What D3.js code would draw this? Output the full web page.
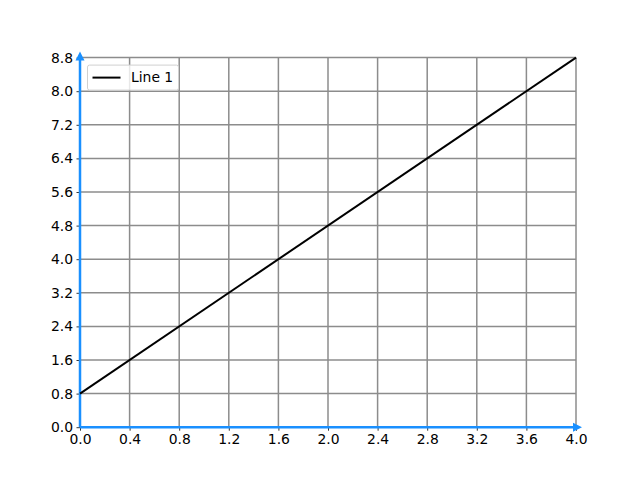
<!DOCTYPE html>
<html>
<head>
<meta charset="utf-8">
<script src="https://cdn.jsdelivr.net/npm/d3@7"></script>
<style>
  body { margin: 0; background: #fff; }
  svg { font-family: "DejaVu Sans", sans-serif; }
</style>
</head>
<body>
<script>
// data
var xTicks = [0, 0.4, 0.8, 1.2, 1.6, 2.0, 2.4, 2.8, 3.2, 3.6, 4.0];
var yTicks = [0, 0.8, 1.6, 2.4, 3.2, 4.0, 4.8, 5.6, 6.4, 7.2, 8.0, 8.8];
var lineX = [0, 4];
var lineY = [0.8, 8.8];
var seriesName = "Line 1";

var width = 640, height = 480;
var margin = {top: 57.6, right: 64, bottom: 52.8, left: 80};

var svg = d3.select("body").append("svg")
    .attr("width", width)
    .attr("height", height);

var xscale = d3.scaleLinear().domain([0, 4]).range([margin.left, width - margin.right]);
var yscale = d3.scaleLinear().domain([0, 8.8]).range([height - margin.bottom, margin.top]);

// grid
svg.append("g").selectAll("line").data(xTicks).join("line")
    .attr("x1", d => xscale(d)).attr("x2", d => xscale(d))
    .attr("y1", yscale(0)).attr("y2", yscale(8.8))
    .attr("stroke", "#8c8c8c").attr("stroke-width", 1.5);
svg.append("g").selectAll("line").data(yTicks).join("line")
    .attr("y1", d => yscale(d)).attr("y2", d => yscale(d))
    .attr("x1", xscale(0)).attr("x2", xscale(4))
    .attr("stroke", "#8c8c8c").attr("stroke-width", 1.5);

// axes
var xAxis = svg.append("g")
    .attr("transform", `translate(0,${yscale(0)})`)
    .call(d3.axisBottom(xscale).tickValues(xTicks).tickFormat(d3.format(".1f")).tickSize(3.5).tickPadding(3.5));
var yAxis = svg.append("g")
    .attr("transform", `translate(${xscale(0)},0)`)
    .call(d3.axisLeft(yscale).tickValues(yTicks).tickFormat(d3.format(".1f")).tickSize(3.5).tickPadding(3.5));
[xAxis, yAxis].forEach(function(g) {
    g.select(".domain").remove();
    g.selectAll(".tick line").attr("stroke", "#000").attr("stroke-width", 0.8);
    g.selectAll(".tick text").attr("font-size", 13.9).attr("fill", "#000")
        .attr("font-family", "DejaVu Sans");
});

// blue spines with arrows
var blue = "#1a90ff";
svg.append("line")
    .attr("x1", xscale(0)).attr("x2", xscale(4))
    .attr("y1", yscale(0)).attr("y2", yscale(0))
    .attr("stroke", blue).attr("stroke-width", 2.5);
svg.append("line")
    .attr("x1", xscale(0)).attr("x2", xscale(0))
    .attr("y1", yscale(0)).attr("y2", yscale(8.8))
    .attr("stroke", blue).attr("stroke-width", 2.5);
svg.append("path")
    .attr("d", `M${xscale(4) + 6},${yscale(0)} L${xscale(4) - 3},${yscale(0) - 4.5} L${xscale(4) - 3},${yscale(0) + 4.5} Z`)
    .attr("fill", blue);
svg.append("path")
    .attr("d", `M${xscale(0)},${yscale(8.8) - 6} L${xscale(0) - 4.5},${yscale(8.8) + 3} L${xscale(0) + 4.5},${yscale(8.8) + 3} Z`)
    .attr("fill", blue);

// line
var line = d3.line().x(d => xscale(d[0])).y(d => yscale(d[1]));
svg.append("path")
    .datum(lineX.map((x, i) => [x, lineY[i]]))
    .attr("fill", "none")
    .attr("stroke", "#000")
    .attr("stroke-width", 2)
    .attr("d", line);

// legend
var lg = svg.append("g").attr("transform", `translate(${margin.left + 7.5},${margin.top + 7.5})`);
lg.append("rect")
    .attr("width", 91).attr("height", 25).attr("rx", 2)
    .attr("fill", "#fff").attr("fill-opacity", 0.8)
    .attr("stroke", "#d0d0d0").attr("stroke-width", 1);
lg.append("line")
    .attr("x1", 5).attr("x2", 33).attr("y1", 12.5).attr("y2", 12.5)
    .attr("stroke", "#000").attr("stroke-width", 2);
lg.append("text")
    .attr("x", 43.5).attr("y", 17)
    .attr("font-size", 13.9)
    .text(seriesName);
</script>
</body>
</html>
